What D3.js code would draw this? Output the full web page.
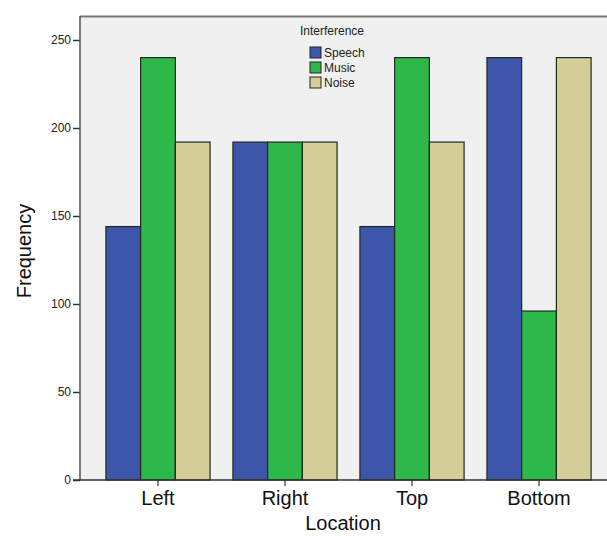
<!DOCTYPE html>
<html>
<head>
<meta charset="utf-8">
<script src="https://cdn.jsdelivr.net/npm/d3@7"></script>
<style>
  html, body { margin: 0; padding: 0; background: #fff; }
  svg { display: block; font-family: "Liberation Sans", Arial, sans-serif; }
</style>
</head>
<body>
<svg id="chart" width="607" height="536"></svg>
<script>
// Frequency of each interference type by location
const locations = ["Left", "Right", "Top", "Bottom"];
const interference = ["Speech", "Music", "Noise"];
const speech = [144, 192, 144, 240];
const music  = [240, 192, 240, 96];
const noise  = [192, 192, 192, 240];
const yTicks = [0, 50, 100, 150, 200, 250];
const colors = ["#3d56aa", "#2fb84a", "#d4cd97"];

const seriesValues = [speech, music, noise];
const rows = locations.map((loc, i) => ({
  loc,
  vals: interference.map((name, k) => ({ name, k, v: seriesValues[k][i] }))
}));

const svg = d3.select("#chart");
const m = { left: 80, top: 16, right: 617, bottom: 480 };

const x = d3.scaleBand().domain(locations).range([m.left, m.right])
  .paddingInner(0.18).paddingOuter(0.204);
const xs = d3.scaleBand().domain(interference).range([0, x.bandwidth()]);
const y = d3.scaleLinear().domain([0, 250]).range([m.bottom, 40]);

// plot background and top frame line
svg.append("rect")
  .attr("x", m.left).attr("y", m.top)
  .attr("width", m.right - m.left).attr("height", m.bottom - m.top)
  .attr("fill", "#f0f0f0");
svg.append("line")
  .attr("x1", m.left).attr("x2", 607).attr("y1", m.top + 0.5).attr("y2", m.top + 0.5)
  .attr("stroke", "#777").attr("stroke-width", 2);

// bars
const g = svg.append("g");
g.selectAll("g.grp").data(rows).join("g")
  .attr("class", "grp")
  .attr("transform", d => `translate(${x(d.loc)},0)`)
  .selectAll("rect").data(d => d.vals).join("rect")
  .attr("x", d => xs(d.name))
  .attr("y", d => y(d.v))
  .attr("width", xs.bandwidth())
  .attr("height", d => y(0) - y(d.v))
  .attr("fill", d => colors[d.k])
  .attr("stroke", "#1e2a1e")
  .attr("stroke-width", 1.2);

// y axis
const yAxis = d3.axisLeft(y).tickValues(yTicks).tickSize(7).tickPadding(2);
const ya = svg.append("g").attr("transform", `translate(${m.left},0)`).call(yAxis);
ya.select(".domain").remove();
ya.selectAll(".tick line").attr("stroke", "#333").attr("stroke-width", 1.5);
ya.selectAll(".tick text").attr("font-size", 12).attr("fill", "#222")
  .attr("font-family", "Liberation Sans, Arial, sans-serif");
svg.append("line")
  .attr("x1", m.left).attr("x2", m.left).attr("y1", m.top).attr("y2", m.bottom)
  .attr("stroke", "#555").attr("stroke-width", 1.5);

// x axis
const xAxis = d3.axisBottom(x).tickSize(6).tickPadding(5);
const xa = svg.append("g").attr("transform", `translate(0,${m.bottom})`).call(xAxis);
xa.select(".domain").remove();
xa.selectAll(".tick line").attr("stroke", "#333").attr("stroke-width", 1.2);
xa.selectAll(".tick text").attr("font-size", 20).attr("fill", "#111")
  .attr("font-family", "Liberation Sans, Arial, sans-serif");
svg.append("line")
  .attr("x1", 73).attr("x2", 607).attr("y1", m.bottom).attr("y2", m.bottom)
  .attr("stroke", "#333").attr("stroke-width", 1.5);

// axis titles
svg.append("text")
  .attr("x", 343).attr("y", 530)
  .attr("text-anchor", "middle").attr("font-size", 20).attr("fill", "#111")
  .text("Location");
svg.append("text")
  .attr("transform", "translate(31,251) rotate(-90)")
  .attr("text-anchor", "middle").attr("font-size", 20).attr("fill", "#111")
  .text("Frequency");

// legend
const lg = svg.append("g");
lg.append("text").attr("x", 300).attr("y", 35)
  .attr("font-size", 12).attr("fill", "#222").text("Interference");
const items = lg.selectAll("g.item").data(interference).join("g")
  .attr("class", "item")
  .attr("transform", (d, i) => `translate(310,${47 + i * 15})`);
items.append("rect").attr("width", 11).attr("height", 11)
  .attr("fill", (d, i) => colors[i]).attr("stroke", "#222").attr("stroke-width", 1);
items.append("text").attr("x", 14).attr("y", 10)
  .attr("font-size", 12).attr("fill", "#222").text(d => d);
</script>
</body>
</html>
